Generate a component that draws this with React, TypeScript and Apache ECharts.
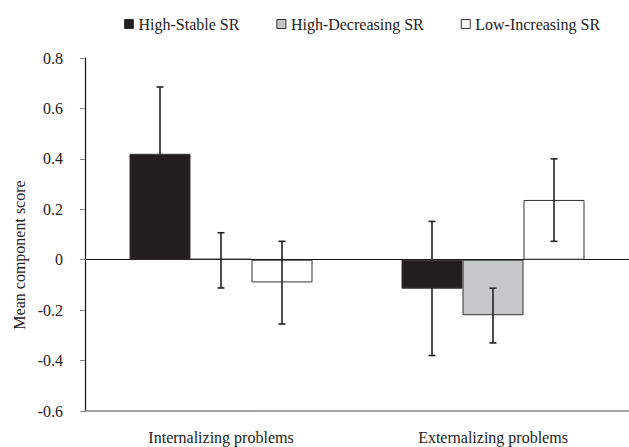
import React, { useEffect, useRef } from "react";
import * as echarts from "echarts";

const categories = ["Internalizing problems", "Externalizing problems"];
const seriesNames = ["High-Stable SR", "High-Decreasing SR", "Low-Increasing SR"];
const highStable = [0.42, -0.115];
const highDecreasing = [0.004, -0.22];
const lowIncreasing = [-0.09, 0.237];
const errLow = [
  [0.155, -0.38],
  [-0.112, -0.33],
  [-0.255, 0.073],
];
const errHigh = [
  [0.685, 0.152],
  [0.107, -0.113],
  [0.073, 0.4],
];
const colors = ["#231f20", "#c6c7c9", "#ffffff"];

const FONT = "Liberation Serif";
const BAR_W = 61;

export default function App() {
  const ref = useRef<HTMLDivElement>(null);
  useEffect(() => {
    document.body.style.margin = "0";
    const chart = echarts.init(ref.current!, null, { renderer: "svg" });
    const values = [highStable, highDecreasing, lowIncreasing];
    const barSeries = seriesNames.map((name, i) => ({
      name,
      type: "bar",
      xAxisIndex: 0,
      data: values[i],
      barWidth: BAR_W,
      barGap: "0%",
      itemStyle: { color: colors[i], borderColor: "#333", borderWidth: 1 },
      z: 2,
    }));
    const errData: number[][] = [];
    for (let s = 0; s < 3; s++) {
      for (let c = 0; c < categories.length; c++) {
        errData.push([c, errLow[s][c], errHigh[s][c], s]);
      }
    }
    const errSeries = {
      type: "custom",
      xAxisIndex: 0,
      data: errData,
      z: 5,
      silent: true,
      renderItem: (params: any, api: any) => {
        const c = api.value(0);
        const lo = api.coord([c, api.value(1)]);
        const hi = api.coord([c, api.value(2)]);
        const s = api.value(3);
        const x = lo[0] + (s - 1) * BAR_W;
        const cap = 3.5;
        const style = { stroke: "#222", lineWidth: 1.6 };
        return {
          type: "group",
          children: [
            { type: "line", shape: { x1: x, y1: lo[1], x2: x, y2: hi[1] }, style },
            { type: "line", shape: { x1: x - cap, y1: lo[1], x2: x + cap, y2: lo[1] }, style },
            { type: "line", shape: { x1: x - cap, y1: hi[1], x2: x + cap, y2: hi[1] }, style },
          ],
        };
      },
    };
    chart.setOption({
      animation: false,
      backgroundColor: "#ffffff",
      textStyle: { fontFamily: FONT },
      legend: {
        data: seriesNames.map((n) => ({ name: n, icon: "rect" })),
        top: 11,
        left: 119,
        itemWidth: 9,
        itemHeight: 9,
        itemGap: 37,
        itemStyle: { borderColor: "#333", borderWidth: 1 },
        textStyle: { fontFamily: FONT, fontSize: 16, color: "#222" },
      },
      grid: { left: 85, right: 0, top: 58, bottom: 36, containLabel: false },
      xAxis: [
        {
          type: "category",
          data: categories,
          axisLine: { onZero: true, lineStyle: { color: "#111", width: 1.2 } },
          axisTick: { show: false },
          axisLabel: { show: false },
        },
        {
          type: "category",
          data: categories,
          position: "bottom",
          axisLine: { onZero: false, lineStyle: { color: "#888", width: 1.5 } },
          axisTick: { show: false },
          axisLabel: { fontFamily: FONT, fontSize: 16, color: "#222", margin: 18 },
        },
      ],
      yAxis: {
        type: "value",
        min: -0.6,
        max: 0.8,
        interval: 0.2,
        axisLine: { show: true, lineStyle: { color: "#111", width: 1.2 } },
        axisTick: { show: true, length: 5, lineStyle: { color: "#888" } },
        splitLine: { show: false },
        axisLabel: {
          fontFamily: FONT,
          fontSize: 16,
          color: "#222",
          margin: 22,
          formatter: (v: number) => {
            const r = Math.round(v * 10) / 10;
            return r === 0 ? "0" : r.toFixed(1);
          },
        },
      },
      graphic: [
        {
          type: "text",
          x: 19,
          y: 255,
          rotation: Math.PI / 2,
          style: {
            text: "Mean component score",
            fontFamily: FONT,
            fontSize: 16,
            fill: "#222",
            align: "center",
            verticalAlign: "middle",
          },
        },
      ],
      series: [...barSeries, errSeries],
    });
    return () => chart.dispose();
  }, []);
  return <div ref={ref} style={{ width: 629, height: 447 }} />;
}
